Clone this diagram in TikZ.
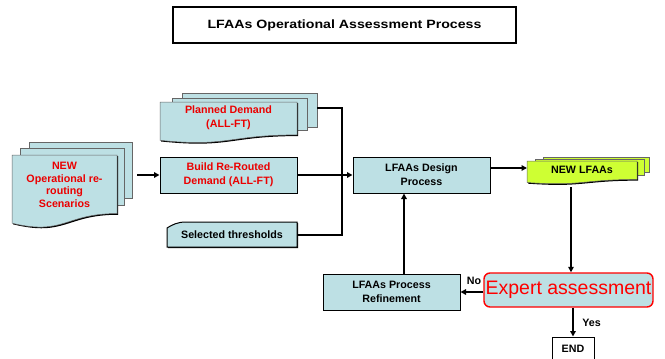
\documentclass[tikz,border=0pt]{standalone}
\usepackage{fontspec}
\setmainfont{Liberation Sans}
\newfontfamily\titlefont{Liberation Sans}[FakeStretch=1.18]
\usetikzlibrary{shadows,arrows.meta}

\definecolor{paleblue}{RGB}{189,224,228}
\definecolor{limegreen}{RGB}{206,255,51}
\definecolor{txtred}{RGB}{235,0,0}

\tikzset{
  hardshadow/.style={drop shadow={shadow xshift=1.2pt,shadow yshift=-1.2pt,opacity=1,fill=black}},
  sheet/.style={fill=#1, draw=black!60, line width=0.5pt, hardshadow},
  boxfont/.style={font=\bfseries\fontsize{10.7}{13.8}\selectfont},
  procbox/.style={draw=black, line width=1pt, fill=paleblue, hardshadow,
    minimum width=137pt, minimum height=36pt, align=center, inner sep=0pt, boxfont},
  lbl/.style={boxfont, align=center, inner sep=0pt},
  flow/.style={line width=1.8pt, -{Triangle[length=5.5pt,width=5.5pt]}},
  link/.style={line width=1.8pt},
}

% one sheet of a document symbol: left, top, right, height; wavy bottom edge
\newcommand\docsheet[5]{%
  \path[#5] (#1,#2) -- (#3,#2) -- (#3,{#2+0.802*#4})
    .. controls ({(#1+#3)/2},{#2+0.802*#4}) and ({(#1+#3)/2},{#2+1.107*#4})
    .. (#1,{#2+0.934*#4}) -- cycle;}

\begin{document}
\begin{tikzpicture}[x=1pt,y=-1pt]
\useasboundingbox (0,0) rectangle (665,359);

% heading
\node[draw, line width=1.2pt, fill=white,
      drop shadow={shadow xshift=-0.8pt,shadow yshift=-0.8pt,opacity=1,fill=black},
      minimum width=343pt, minimum height=36pt, inner sep=0pt] (title) at (344.5,25)
  {\titlefont\bfseries\fontsize{12}{14}\selectfont LFAAs Operational Assessment Process};

% scenarios (stack of documents)
\path[sheet=paleblue] (29,142) rectangle (132,198);
\path[sheet=paleblue] (20,148) rectangle (124,205);
\docsheet{12}{155}{117}{73}{sheet=paleblue}
\node[lbl, text=txtred, font=\bfseries\fontsize{10.7}{12.7}\selectfont] (scen) at (64.5,185)
  {NEW\\Operational re-\\routing\\Scenarios};
\coordinate (scenout) at (137,175);

% planned demand (stack of documents)
\path[sheet=paleblue] (182,93) rectangle (317,127);
\path[sheet=paleblue] (172,98) rectangle (307,130);
\docsheet{160}{102}{297}{41}{sheet=paleblue}
\node[lbl, text=txtred] (plan) at (228.5,118) {Planned Demand\\(ALL-FT)};
\coordinate (planout) at (317,108);

% re-routed demand
\node[procbox, text=txtred] (build) at (228.5,175) {Build Re-Routed\\Demand (ALL-FT)};

% selected thresholds (card shape)
\path[fill=paleblue, draw=black, line width=1pt, hardshadow]
  (167,247) -- (167,228) .. controls (172,225) and (177,222) .. (186,222)
  -- (297,222) -- (297,247) -- cycle;
\node[lbl, minimum width=130pt, minimum height=25pt] (thr) at (232,235) {Selected thresholds};

% design process
\node[procbox] (design) at (421.5,175) {LFAAs Design\\Process};

% new LFAAs (stack of documents)
\path[sheet=limegreen] (543,157) rectangle (649,172);
\path[sheet=limegreen] (535,159) rectangle (644,175);
\docsheet{527}{161}{637}{23}{sheet=limegreen}
\node[lbl] (newl) at (582,170) {NEW LFAAs};
\coordinate (newin) at (527,168);
\coordinate (newout) at (571,187);

% expert assessment
\node[draw=red, line width=1.4pt, rounded corners=6pt, fill=paleblue,
      minimum width=169pt, minimum height=34pt, inner sep=0pt, text=red,
      font=\fontsize{19.5}{20}\selectfont] (expert) at (568.5,290) {Expert assessment};

% refinement
\node[procbox] (refine) at (391.5,292) {LFAAs Process\\Refinement};

% end
\node[draw, line width=1pt, fill=white, hardshadow, minimum width=42pt,
      minimum height=24pt, inner sep=0pt, boxfont] (end) at (573,349) {END};

% connectors
\coordinate (jn) at (342,175);
\coordinate (fb) at (404,0);
\draw[flow] (scenout) -- (build.west |- scenout);
\draw[link] (planout) -| (jn);
\draw[link] (thr.east) -| (jn);
\draw[flow] (build.east) -- (design.west |- build.east);
\draw[flow] (design.east |- newin) -- (newin);
\draw[flow] (newout) -- (newout |- expert.north);
\draw[flow] (expert.west |- refine.east) -- (refine.east);
\draw[flow] (refine.north -| fb) -- (design.south -| fb);
\draw[flow] (expert.south -| end) -- (end.north);

% branch labels
\node[lbl] (no) at (474,280.5) {No};
\node[lbl] (yes) at (591.5,323) {Yes};
\end{tikzpicture}
\end{document}
